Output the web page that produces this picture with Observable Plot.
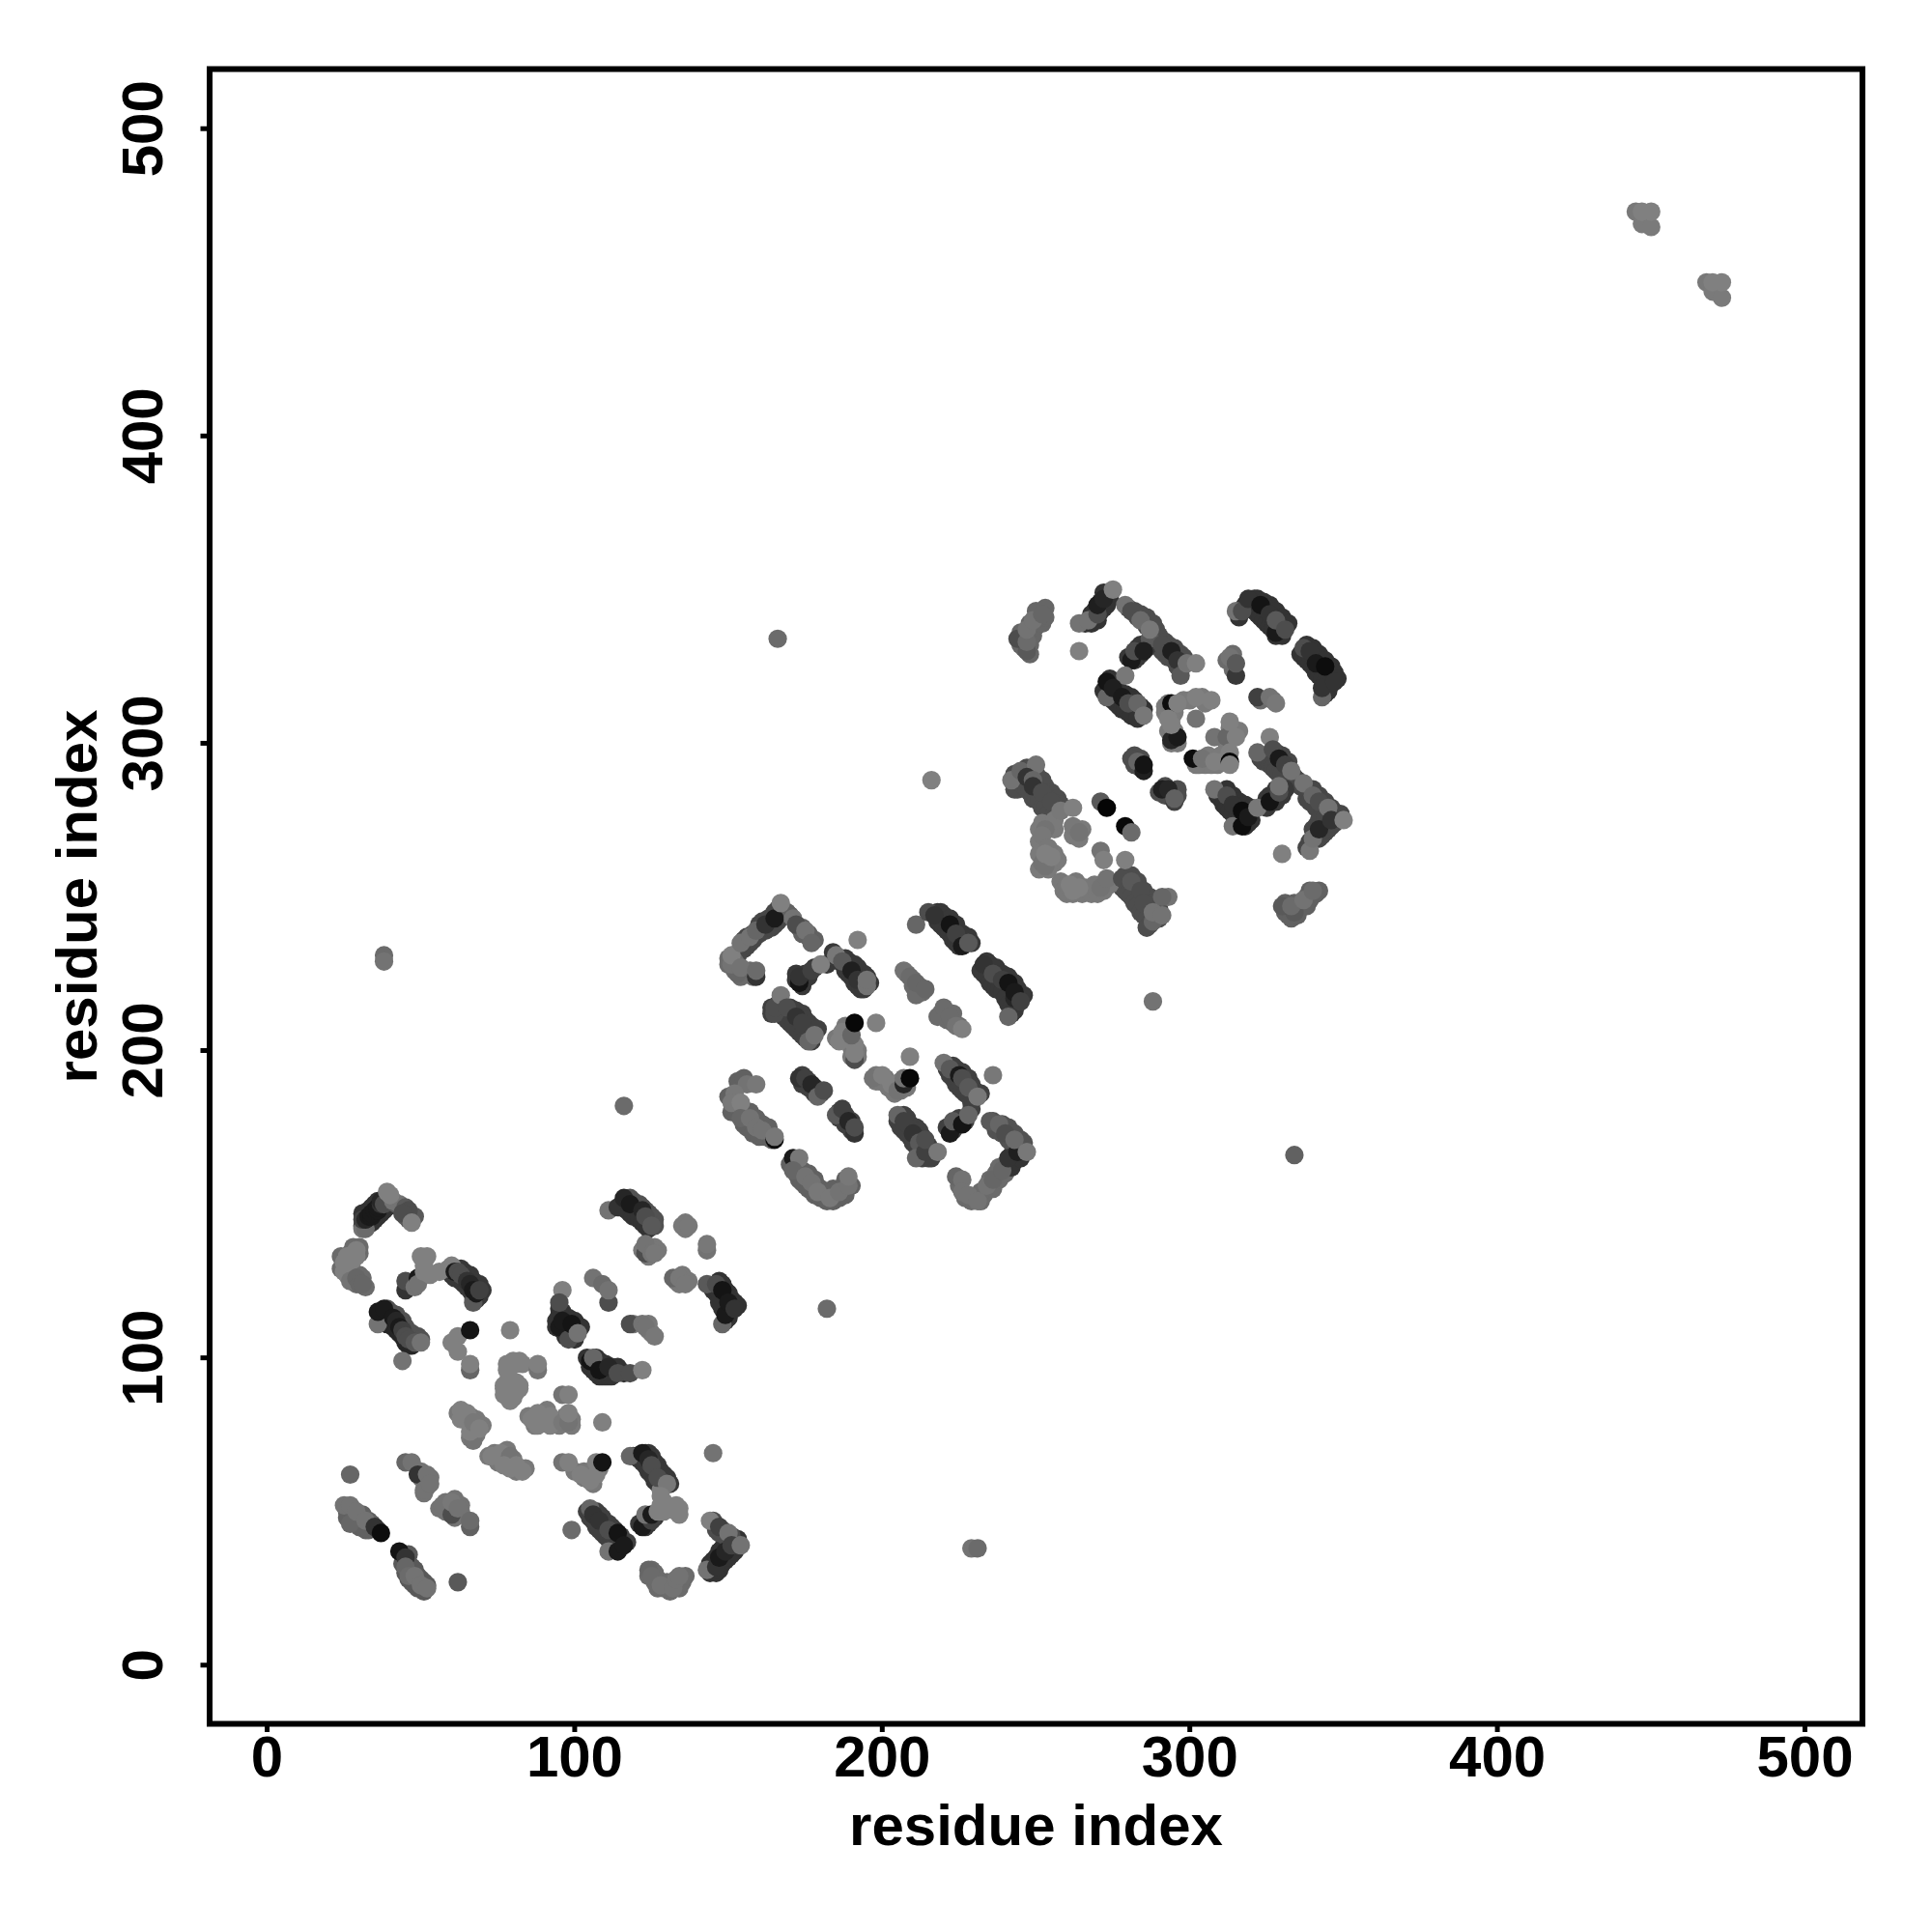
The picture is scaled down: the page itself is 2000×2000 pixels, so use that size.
<!DOCTYPE html>
<html><head><meta charset="utf-8">
<script src="https://cdn.jsdelivr.net/npm/d3@7"></script>
<script src="https://cdn.jsdelivr.net/npm/@observablehq/plot@0.6"></script>
<style>html,body{margin:0;padding:0;background:#fff}</style></head>
<body><div id="chart"></div>
<script>
// neighbouring contacts lying under the strands: [grey level, [[residue i, residue j], ...]]
const u01 = [.15,[[37,113],[38,112],[39,111],[40,111],[41,110],[42,109],[43,108],[44,107],[45,105],[46,104],[47,104]]];
const u02 = [.32,[[39,116],[40,115],[42,114],[44,112],[45,110],[47,108],[49,107],[50,106]]];
const u03 = [.2,[[115,149],[116,149],[117,148],[118,147],[119,146],[120,146],[121,145],[122,144],[123,143],[124,142]]];
const u04 = [.32,[[118,152],[119,151],[120,150],[121,150],[122,149],[123,148],[124,147],[125,146],[126,145],[126,143]]];
const u05 = [.2,[[31,143],[32,143],[33,144],[34,144],[35,145],[36,146],[37,147],[38,148],[39,149],[33,148],[34,149],[35,150],[36,151],[31,147],[32,147]]];
const u06 = [.35,[[40,151],[42,150],[44,149],[46,146],[47,146],[48,146],[45,146],[46,145]]];
const u07 = [.22,[[61,126],[62,126],[63,125],[64,124],[65,123],[66,122],[67,120],[68,119],[69,120],[63,129],[64,128],[66,127],[67,125],[68,124],[69,124],[70,122],[60,127]]];
const u08 = [.2,[[145,122],[146,121],[147,120],[148,119],[149,118],[150,115],[148,116],[147,118],[147,125],[148,124],[149,122],[150,121],[151,119],[152,118],[153,117],[149,112],[150,113]]];
const u09 = [.2,[[95,114],[95,112],[96,109],[97,108],[98,108],[99,107],[100,106],[96,115],[97,113],[98,113],[100,112],[101,110],[102,110],[95,116],[94,112],[94,110],[97,107]]];
const u10 = [.2,[[105,97],[106,96],[107,95],[108,94],[109,94],[110,94],[111,94],[112,94],[107,100],[108,99],[110,98],[112,97],[114,97],[116,95],[104,100]]];
const u11 = [.25,[[104,50],[105,48],[106,47],[107,45],[108,44],[109,43],[110,42],[111,41],[112,40],[113,38],[114,39],[115,40],[107,50],[108,49],[109,48],[110,46],[111,46],[112,45],[113,44],[115,42],[117,40]]];
const u12 = [.2,[[144,30],[145,31],[146,30],[147,31],[148,33],[149,34],[150,35],[151,36],[152,37],[144,33],[145,34],[146,35],[147,37],[148,38],[149,39],[150,40],[152,40],[153,41]]];
const u13 = [.3,[[145,47],[146,45],[148,44],[149,42],[151,42],[147,43],[146,44]]];
const u14 = [.22,[[119,68],[120,68],[121,67],[122,66],[123,65],[124,63],[125,62],[126,60],[127,59],[128,58],[123,69],[124,69],[125,68],[126,66],[127,65],[128,63],[129,62],[130,61],[131,59],[123,45],[124,46],[121,46],[126,48]]];
const u15 = [.5,[[129,53],[128,52],[128,57],[129,50],[131,51],[134,49],[134,51]]];
const u16 = [.42,[[125,31],[126,27],[127,25],[127,28],[129,25],[130,27],[131,24],[134,25],[135,27],[136,29],[126,30],[124,29]]];
const u17 = [.38,[[26,50],[27,49],[28,47],[29,46],[30,45],[31,45],[32,44],[33,44],[26,48],[28,49],[30,48],[31,49],[33,47],[34,46],[36,44]]];
const u18 = [.35,[[44,33],[45,30],[46,28],[47,27],[48,26],[49,25],[50,25],[51,24],[46,33],[47,32],[48,31],[49,29],[50,28],[51,27],[52,26],[44,36],[46,36]]];
const u19 = [.28,[[155,233],[156,234],[157,235],[158,236],[159,238],[160,238],[161,239],[162,239],[163,240],[164,240],[165,241],[166,242],[154,233],[153,231],[155,236],[156,237],[158,238],[160,241],[161,242],[163,243],[165,245],[166,246]]];
const u20 = [.42,[[150,230],[152,229],[153,227],[155,226],[156,225],[157,226],[158,224],[154,224],[152,226],[150,228]]];
const u21 = [.38,[[169,245],[170,244],[173,240],[174,240],[176,237],[176,238],[174,238],[178,236]]];
const u22 = [.22,[[186,229],[188,226],[189,225],[190,224],[191,222],[192,221],[193,220],[194,220],[188,230],[189,229],[191,228],[192,227],[194,225],[195,224],[196,222],[172,223],[172,225],[174,221],[175,225],[176,224],[178,227],[182,228],[184,232]]];
const u23 = [.25,[[168,211],[169,210],[170,209],[171,208],[172,207],[173,206],[174,205],[175,204],[177,203],[170,214],[171,213],[172,213],[174,212],[175,210],[176,209],[177,208],[179,207],[164,214],[164,212],[166,215],[167,214]]];
const u24 = [.25,[[221,194],[222,192],[223,191],[224,189],[225,188],[226,187],[227,186],[223,195],[224,194],[226,193],[228,191],[229,189],[230,187],[232,186],[229,183],[229,181],[221,175],[223,174],[225,178],[227,177]]];
const u25 = [.25,[[205,177],[206,175],[207,174],[208,173],[209,172],[210,170],[211,169],[212,167],[207,179],[208,178],[209,176],[211,175],[212,174],[213,172],[215,169],[216,167],[213,165],[216,165],[215,165]]];
const u26 = [.22,[[218,242],[219,241],[220,240],[221,239],[222,238],[223,236],[224,235],[225,234],[218,245],[219,245],[220,244],[222,243],[224,241],[226,238],[228,237],[229,235]]];
const u27 = [.22,[[232,226],[233,225],[234,224],[235,222],[236,221],[237,220],[238,220],[239,219],[240,217],[241,215],[242,214],[243,213],[234,229],[235,228],[237,227],[239,225],[241,224],[243,222],[244,220],[246,218],[242,212]]];
const u28 = [.38,[[152,180],[153,180],[155,176],[156,175],[157,175],[158,173],[160,172],[162,172],[164,171],[163,173],[155,180],[157,180],[159,178],[161,176],[163,175],[153,190],[155,191],[150,185],[151,180]]];
const u29 = [.38,[[170,163],[172,160],[173,158],[174,157],[175,156],[176,155],[178,153],[180,152],[182,151],[184,151],[172,163],[174,161],[176,160],[178,158],[180,155],[182,154],[184,155],[186,152],[188,153],[190,156],[188,158]]];
const u30 = [.42,[[225,156],[227,152],[229,151],[230,152],[232,151],[233,153],[235,155],[236,155],[238,158],[240,160],[238,162],[240,163],[237,160],[232,154],[235,158]]];
const u31 = [.2,[[242,162],[243,164],[245,165],[242,166],[243,168],[245,169],[246,168]]];
const u32 = [.32,[[236,177],[237,174],[239,173],[241,171],[242,170],[239,176],[241,175],[243,173],[245,171],[246,170]]];
const u33 = [.2,[[266,339],[268,342],[269,343],[270,340],[271,343],[272,344],[273,345],[271,346],[272,349],[273,348],[274,347],[268,339]]];
const u34 = [.3,[[280,344],[282,343],[283,341],[285,340],[286,338],[288,336],[289,334],[290,332],[291,330],[292,329],[293,328],[295,327],[296,325],[289,337],[290,335],[292,333],[293,332],[295,331],[297,329],[298,328],[286,341],[284,342],[288,339]]];
const u35 = [.2,[[272,317],[273,316],[274,315],[275,314],[276,313],[277,312],[278,311],[279,311],[280,310],[281,309],[283,308],[276,319],[277,317],[279,316],[281,315],[282,314],[284,312],[285,311],[274,321]]];
const u36 = [.2,[[316,341],[318,345],[320,345],[321,343],[322,342],[323,341],[324,340],[325,339],[326,338],[327,337],[328,335],[330,335],[321,347],[322,347],[324,346],[326,345],[328,343],[330,341],[332,339]]];
const u37 = [.2,[[336,329],[337,328],[338,327],[339,326],[340,325],[341,323],[342,322],[343,321],[344,320],[345,318],[338,332],[340,331],[342,329],[344,327],[346,325],[347,323],[348,321],[344,316],[345,317]]];
const u38 = [.2,[[309,283],[310,282],[311,280],[312,279],[313,278],[314,277],[315,275],[316,274],[318,273],[319,274],[320,275],[312,285],[314,283],[316,281],[318,280],[320,279]]];
const u39 = [.28,[[323,295],[324,294],[325,296],[326,293],[327,292],[328,291],[329,290],[330,290],[332,294],[328,297],[330,296],[334,289],[335,288],[336,286],[338,285],[340,285],[342,283],[344,281],[346,279],[338,282],[339,281],[341,279],[343,277],[344,275],[341,270],[342,269],[343,270],[344,271],[345,272],[346,273],[347,274],[340,272],[339,268],[338,266],[341,273],[342,275],[344,276],[348,276],[349,277]]];
const u40 = [.22,[[325,279],[326,283],[327,282],[328,281],[330,283],[331,285],[328,285],[325,282]]];
const u41 = [.3,[[243,285],[244,285],[245,287],[246,286],[247,285],[248,284],[249,282],[250,282],[251,281],[252,279],[253,279],[254,277],[256,277],[243,290],[244,289],[247,292],[248,290],[250,290],[252,288],[253,286],[255,284],[257,282],[258,280]]];
const u42 = [.3,[[277,254],[278,253],[279,252],[280,251],[281,250],[282,248],[283,247],[284,245],[285,244],[286,243],[287,241],[279,257],[281,257],[283,255],[285,252],[287,250],[288,248],[289,246],[290,246],[286,240],[290,243]]];
const u43 = [.48,[[251,272],[252,274],[255,274],[251,268],[256,264],[251,264],[257,262],[256,261],[254,259],[251,259],[256,272],[256,275],[262,270],[264,269],[265,272]]];
const u44 = [.47,[[258,255],[259,252],[260,251],[262,251],[263,255],[265,251],[266,253],[268,251],[270,251],[272,252],[269,254],[274,254]]];
const u45 = [.4,[[245,332],[246,331],[248,329],[248,332],[249,335],[250,338],[252,339],[253,341],[250,343],[251,341],[253,344],[246,335],[248,339],[245,336]]];
const u46 = [.38,[[331,245],[332,244],[333,243],[335,244],[336,247],[338,247],[339,249],[341,251],[342,252],[339,252],[338,250],[331,248],[334,248]]];
const u47 = [.42,[[24,129],[24,133],[26,130],[27,134],[30,134],[28,136],[30,136],[28,128],[27,127],[29,124],[31,126],[32,123],[30,127]]];
const u48 = [.5,[[79,97],[80,99],[82,99],[83,98],[77,91],[77,90],[79,93],[80,87],[82,91],[82,90],[77,88]]];
const u49 = [.48,[[85,81],[87,78],[89,80],[90,79],[91,83],[93,79],[94,79],[95,78],[97,81],[99,80],[99,78],[90,82]]];
const u50 = [.47,[[62,82],[64,80],[66,81],[68,80],[66,74],[68,78],[70,78],[68,75],[72,68],[75,67],[78,65],[74,69],[78,70],[80,67],[82,64],[84,64],[81,63],[75,66],[100,63],[103,61],[104,62],[106,59],[108,64],[103,63],[105,63]]];
const u51 = [.45,[[50,61],[51,60],[53,61],[52,58],[50,63],[51,56],[56,51],[58,50],[59,52],[61,54],[62,52],[63,50],[61,48],[63,52],[58,53]]];
const u52 = [.47,[[136,142],[136,144],[124,136],[122,135],[124,133],[126,136],[127,135],[124,109],[125,108],[119,111],[124,111],[134,124],[133,125],[135,127],[135,125],[137,125]]];
const u53 = [.25,[[174,192],[176,190],[178,188],[178,186],[174,189],[176,188],[180,186],[186,178],[188,179],[188,176],[190,174],[190,177],[186,180]]];
const u54 = [.42,[[208,225],[210,223],[210,221],[212,221],[213,219],[212,219],[219,212],[221,212],[221,210],[223,209],[225,208],[223,212]]];
const u55 = [.47,[[187,204],[188,207],[189,206],[189,203],[190,201],[192,200],[192,198],[190,198],[185,204],[188,208],[198,192],[198,190],[199,190],[201,191],[202,188],[204,188],[204,186],[206,187],[206,190],[208,188]]];
const u56 = [.48,[[292,310],[293,311],[292,312],[295,310],[294,308],[295,304],[293,304],[295,303],[294,300],[296,300],[298,314],[300,314],[304,315],[305,313],[313,305],[314,304],[312,300],[316,304],[303,293],[305,293],[306,296],[307,293],[309,293],[310,296],[302,293]]];
const u57 = [.42,[[314,329],[312,327],[314,324],[327,314],[323,314]]];
const u58 = [.3,[[284,295],[282,293],[282,296],[284,292],[292,283],[294,284],[292,286],[294,283],[296,283],[296,285],[290,284]]];
const u59 = [.22,[[283,328],[284,329],[283,331],[280,328],[286,331],[284,332],[282,327]]];

// each contact: [residue i, residue j, grey level 0..1]
const c01 = [[31,142,.45],[32,142,.42],[31,145,.25],[32,145,.15],[33,146,.1],[34,146,.1],[34,147,.1],[35,148,.1],[36,148,.1],[36,149,.1],[37,150,.2],[37,151,.15],[38,150,.3],[43,150,.45],[41,151,.45],[45,149,.35],[46,148,.3],[44,147,.3],[40,153,.5],[39,154,.5],[47,144,.5]];
const c02 = [[26,133,.5],[27,132,.5],[29,135,.5],[28,132,.5],[25,131,.5],[29,133,.5],[25,128,.5],[26,127,.5],[27,125,.45],[29,126,.4],[30,124,.4],[31,124,.4]];
const c03 = [[45,122,.2],[45,125,.3],[48,123,.45],[49,126,.1],[49,124,.45],[50,133,.5],[52,133,.5],[51,130,.5],[51,128,.5],[53,127,.5],[56,128,.5],[67,118,.35],[59,129,.5],[60,130,.5],[61,128,.1],[62,128,.3],[63,127,.3],[65,125,.2],[66,124,.15],[67,122,.1],[68,121,.1],[69,122,.25]];
const c04 = [[36,111,.45],[36,115,.1],[38,116,.1],[41,113,.1],[42,112,.15],[43,110,.1],[44,109,.25],[45,107,.3],[46,106,.3],[48,105,.35],[50,105,.45],[44,99,.45]];
const c05 = [[60,105,.5],[62,107,.5],[62,102,.5],[66,96,.4],[66,98,.5],[66,109,.08],[79,109,.5]];
const c06 = [[81,98,.5],[78,98,.5],[78,96,.5],[88,96,.45],[88,98,.5],[78,92,.5],[81,92,.5],[78,89,.5],[79,86,.5],[81,89,.5],[96,88,.45],[98,88,.5]];
const c07 = [[86,80,.5],[88,82,.5],[88,78,.5],[92,81,.5],[92,78,.5],[96,79,.47],[98,79,.45],[98,82,.5],[109,79,.5]];
const c08 = [[63,83,.5],[65,82,.5],[63,80,.5],[67,73,.45],[66,76,.5],[67,79,.47],[69,77,.5]];
const c09 = [[73,68,.5],[76,69,.5],[79,68,.45],[77,65,.5],[79,64,.5],[81,65,.5],[83,63,.5]];
const c10 = [[96,66,.45],[98,66,.5],[102,62,.5],[105,60,.5],[107,62,.5],[107,66,.5],[109,66,.08]];
const c11 = [[118,68,.4],[122,69,.1],[124,67,.15],[125,65,.3],[127,61,.3],[130,59,.47],[128,55,.5],[122,45,.1],[125,47,.25],[123,49,.45],[125,49,.1],[127,50,.5],[133,52,.5],[133,50,.5]];
const c12 = [[145,69,.45],[99,44,.42],[105,51,.4],[106,49,.2],[108,47,.2],[111,44,.3],[111,37,.45],[114,43,.08],[114,37,.1],[116,39,.1]];
const c13 = [[144,47,.5],[147,45,.25],[150,43,.45],[143,31,.45],[146,32,.2],[147,35,.1],[149,37,.15],[151,39,.25],[154,39,.45]];
const c14 = [[124,31,.4],[125,29,.42],[128,26,.45],[132,25,.45],[133,28,.45],[134,29,.45]];
const c15 = [[27,62,.4],[25,52,.45],[27,52,.45],[27,46,.4],[29,50,.45],[32,47,.45],[35,45,.2],[37,43,.05],[43,37,.08],[45,35,.2],[45,32,.4],[46,29,.42],[48,29,.45],[50,26,.45],[52,25,.45],[62,27,.35]];
const c16 = [[45,66,.4],[47,66,.45],[49,62,.2],[51,57,.45],[52,62,.45],[53,59,.45]];
const c17 = [[57,52,.45],[60,49,.3],[60,53,.47],[62,51,.45],[66,45,.38],[66,47,.42]];
const c18 = [[111,148,.45],[114,149,.2],[116,152,.15],[118,150,.1],[122,148,.15],[123,146,.3],[125,143,.35]];
const c19 = [[135,143,.47],[137,143,.47],[143,135,.45],[143,137,.47],[123,134,.3],[123,137,.45],[125,134,.45],[126,134,.47]];
const c20 = [[132,126,.4],[134,126,.47],[136,124,.47],[143,124,.35],[146,124,.3],[148,111,.4],[149,114,.1],[148,122,.08],[150,118,.1],[152,116,.2]];
const c21 = [[111,118,.3],[106,126,.45],[109,124,.42],[111,122,.45],[96,122,.5],[95,118,.3],[95,110,.1],[96,112,.1],[98,106,.3],[99,111,.08],[101,108,.45]];
const c22 = [[118,111,.3],[122,111,.45],[123,110,.45],[126,107,.47]];
const c23 = [[105,99,.08],[106,100,.4],[108,96,.08],[111,97,.15],[114,95,.3],[118,95,.3],[122,96,.5]];
const c24 = [[153,225,.4],[151,228,.45],[151,231,.5],[154,227,.45],[154,235,.45],[157,237,.45],[159,239,.4],[162,241,.2],[165,243,.1],[159,224,.2],[159,226,.42],[171,243,.45],[172,241,.3],[175,239,.45],[177,235,.4],[167,248,.5]];
const c25 = [[173,222,.08],[173,224,.2],[177,226,.25],[180,228,.5],[185,231,.47],[187,229,.35],[190,226,.12],[192,223,.2],[195,221,.45],[195,223,.45],[192,236,.5]];
const c26 = [[165,212,.3],[165,214,.3],[167,218,.47],[169,214,.3],[172,211,.2],[174,209,.25],[176,203,.4],[178,205,.45]];
const c27 = [[191,197,.3],[191,199,.5],[191,202,.5],[186,203,.5],[187,206,.5],[190,205,.4],[191,209,.03],[198,209,.5],[209,198,.5]];
const c28 = [[197,191,.45],[200,192,.5],[203,189,.5],[205,187,.45],[207,189,.15],[207,191,.45],[209,191,.03],[236,192,.47]];
const c29 = [[220,196,.45],[222,194,.35],[225,192,.1],[226,191,.3],[228,188,.35],[231,185,.47],[222,173,.1],[223,177,.35],[226,176,.08],[228,179,.4]];
const c30 = [[205,179,.4],[207,177,.25],[210,173,.2],[212,170,.35],[211,165,.4],[214,167,.25],[214,171,.3],[218,167,.47]];
const c31 = [[173,191,.2],[175,191,.25],[177,189,.15],[179,185,.4],[181,187,.3]];
const c32 = [[185,179,.35],[187,181,.25],[189,177,.15],[191,173,.2],[191,175,.3]];
const c33 = [[156,189,.45],[159,189,.47],[152,186,.47],[151,183,.47],[154,183,.5],[154,178,.4],[157,178,.45],[159,175,.45],[161,174,.45],[165,171,.05],[165,172,.47]];
const c34 = [[171,165,.1],[173,165,.47],[171,161,.4],[175,159,.45],[177,157,.45],[179,154,.47],[183,152,.47],[186,154,.45],[189,156,.45],[189,159,.47]];
const c35 = [[224,159,.4],[226,158,.45],[226,154,.45],[228,153,.45],[231,151,.45],[234,156,.45],[236,158,.4],[239,161,.4],[241,165,.2],[244,167,.12],[235,177,.35],[238,176,.4],[240,173,.3],[243,171,.42],[247,167,.47]];
const c36 = [[211,241,.4],[215,245,.3],[217,244,.2],[222,241,.08],[224,238,.25],[226,234,.1],[228,235,.35]];
const c37 = [[233,228,.2],[236,225,.3],[239,223,.25],[241,222,.08],[241,211,.4],[243,217,.15],[243,219,.1],[245,216,.25]];
const c38 = [[207,226,.45],[209,224,.42],[211,218,.42],[211,222,.4],[214,220,.4],[218,211,.42],[220,214,.42],[222,211,.42],[224,208,.45],[226,207,.5]];
const c39 = [[247,330,.35],[244,334,.3],[247,333,.42],[247,337,.45],[249,340,.45],[252,342,.4],[264,330,.5]];
const c40 = [[264,339,.45],[267,340,.45],[270,342,.3],[270,345,.12],[272,347,.15],[279,345,.45],[281,343,.3],[284,340,.42],[287,334,.35],[287,337,.47],[291,332,.3],[294,330,.12],[296,327,.2],[297,322,.35],[299,326,.45],[302,326,.5],[275,350,.5]];
const c41 = [[281,327,.1],[282,330,.3],[285,330,.12],[279,322,.47]];
const c42 = [[273,315,.4],[273,320,.08],[275,318,.12],[278,315,.1],[280,313,.3],[283,313,.4],[285,309,.47]];
const c43 = [[315,343,.45],[317,343,.3],[319,347,.2],[323,345,.08],[326,342,.2],[328,336,.1],[328,340,.35],[331,337,.3]];
const c44 = [[337,331,.3],[339,330,.2],[341,326,.1],[343,315,.4],[343,318,.2],[344,325,.05],[347,320,.2]];
const c45 = [[315,322,.22],[313,328,.45],[315,326,.35],[322,315,.25],[326,315,.45],[328,313,.47]];
const c46 = [[293,313,.47],[294,313,.05],[296,313,.5],[302,315,.5],[307,314,.5],[302,308,.45],[294,301,.15],[296,302,.1],[293,308,.5],[294,306,.5],[308,302,.45],[312,302,.4],[315,302,.5],[313,307,.5]];
const c47 = [[301,295,.05],[304,295,.45],[308,294,.5],[311,294,.5],[313,297,.5],[313,294,.03],[313,293,.5]];
const c48 = [[281,295,.3],[283,294,.4],[285,291,.12],[285,293,.08],[291,285,.12],[293,285,.15],[295,281,.25],[295,282,.38]];
const c49 = [[308,285,.45],[312,283,.3],[314,280,.2],[314,273,.45],[317,273,.05],[317,278,.05],[319,276,.1],[322,279,.47]];
const c50 = [[322,297,.4],[326,302,.5],[327,298,.3],[329,295,.1],[331,293,.25],[333,291,.45],[337,287,.45],[340,283,.4],[342,281,.3],[345,279,.45],[339,265,.47],[340,269,.45],[342,272,.15],[346,275,.2],[350,275,.5],[330,264,.5]];
const c51 = [[326,281,.08],[329,284,.3],[329,286,.45]];
const c52 = [[330,247,.35],[334,245,.35],[333,247,.42],[337,249,.45],[340,252,.42]];
const c53 = [[242,288,.45],[245,291,.4],[250,293,.45],[247,289,.2],[249,288,.4],[249,286,.2],[252,284,.3],[255,281,.3],[258,278,.47],[262,279,.5]];
const c54 = [[253,272,.45],[252,270,.47],[262,273,.47],[264,271,.45],[252,261,.45],[253,260,.45],[254,266,.47],[253,264,.5],[255,263,.5]];
const c55 = [[260,254,.47],[261,254,.5],[262,252,.5],[264,253,.5],[271,253,.45],[273,256,.45],[271,265,.45],[272,262,.5],[279,262,.5]];
const c56 = [[271,281,.35],[273,279,.02],[279,273,.03],[281,271,.42]];
const c57 = [[278,256,.3],[281,255,.35],[284,252,.3],[285,248,.3],[293,250,.45],[291,250,.4],[288,242,.4],[288,245,.45],[291,244,.45]];
const c58 = [[166,334,.42],[216,288,.5],[334,166,.38],[288,216,.45],[182,116,.42],[116,182,.42],[38,231,.42],[38,229,.45],[229,38,.45],[231,38,.42]];
const c59 = [[445,473,.47],[447,469,.48],[447,473,.5],[450,468,.48],[450,473,.5],[468,450,.47],[470,447,.48],[470,450,.5],[473,445,.48],[473,450,.5]];

const strands = [u01,u02,u03,u04,u05,u06,u07,u08,u09,u10,u11,u12,u13,u14,u15,u16,u17,u18,u19,u20,u21,u22,u23,u24,u25,u26,u27,u28,u29,u30,u31,u32,u33,u34,u35,u36,u37,u38,u39,u40,u41,u42,u43,u44,u45,u46,u47,u48,u49,u50,u51,u52,u53,u54,u55,u56,u57,u58,u59];
const clusters = [c01,c02,c03,c04,c05,c06,c07,c08,c09,c10,c11,c12,c13,c14,c15,c16,c17,c18,c19,c20,c21,c22,c23,c24,c25,c26,c27,c28,c29,c30,c31,c32,c33,c34,c35,c36,c37,c38,c39,c40,c41,c42,c43,c44,c45,c46,c47,c48,c49,c50,c51,c52,c53,c54,c55,c56,c57,c58,c59];
const contacts = [
  ...strands.flatMap(([shade, pts]) => pts.map(([i, j]) => ({i, j, shade}))),
  ...clusters.flat().map(([i, j, shade]) => ({i, j, shade}))
];
const tickValues = [0, 100, 200, 300, 400, 500];
const axisLabel = "residue index";
const fontFamily = '"Liberation Sans", Arial, sans-serif';

const chart = Plot.plot({
  width: 2000, height: 2000,
  marginLeft: 216.5, marginRight: 72.5, marginTop: 71, marginBottom: 216,
  style: {background: "#fff", fontFamily},
  x: {domain: [-18.7, 518.7]},
  y: {domain: [-19.1, 519.4]},
  color: {type: "linear", domain: [0, 1], range: ["#000", "#fff"]},
  marks: [
    Plot.dot(contacts, {x: "i", y: "j", r: 9.6, fill: "shade", stroke: "none"}),
    Plot.frame({stroke: "#000", strokeWidth: 6}),
    Plot.axisX({ticks: tickValues, tickSize: 9, tickPadding: 3, strokeWidth: 5, fontSize: 60, fontWeight: "bold", fill: "#000", stroke: "#000", textStroke: "none",
      label: axisLabel, labelAnchor: "center", labelArrow: "none", labelOffset: 125, tickFormat: d => String(d)}),
    Plot.axisY({ticks: tickValues, tickSize: 9, tickPadding: 40, strokeWidth: 5, fontSize: 60, fontWeight: "bold", fill: "#000", stroke: "#000", textStroke: "none", tickRotate: -90,
      label: axisLabel, labelAnchor: "center", labelArrow: "none", labelOffset: 160, tickFormat: d => String(d)})
  ]
});
document.getElementById("chart").appendChild(chart);
</script></body></html>
